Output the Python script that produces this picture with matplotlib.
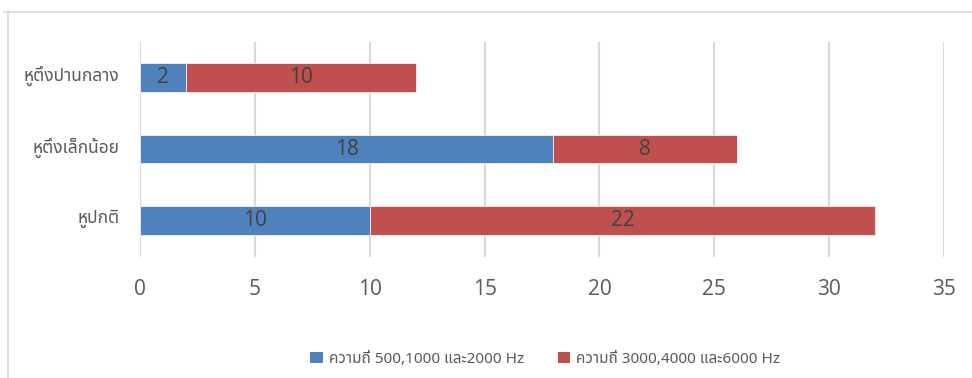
import matplotlib
matplotlib.use("Agg")
import matplotlib.pyplot as plt
import matplotlib.transforms as mtransforms
from matplotlib.lines import Line2D
from matplotlib.patches import Patch

categories = ["หูปกติ", "หูตึงเล็กน้อย", "หูตึงปานกลาง"]
low_freq = [10, 18, 2]
high_freq = [22, 8, 10]
series_names = ["ความถี่ 500,1000 และ2000 Hz", "ความถี่ 3000,4000 และ6000 Hz"]
x_ticks = [0, 5, 10, 15, 20, 25, 30, 35]

BLUE = "#4F81BD"
RED = "#C0504D"
GRID = "#D9D9D9"
TEXT = "#595959"
LABEL = "#404040"

plt.rcParams["font.family"] = ["Noto Sans Thai", "DejaVu Sans"]

fig = plt.figure(figsize=(9.72, 3.78), dpi=100)
ax = fig.add_axes([140 / 972, 1 - 256.5 / 378, 804 / 972, 215 / 378])

y = list(range(len(categories)))
ax.barh(y, low_freq, height=0.4, color=BLUE, edgecolor="white", linewidth=0.5, zorder=3)
ax.barh(y, high_freq, left=low_freq, height=0.4, color=RED, edgecolor="white", linewidth=0.5, zorder=3)

for i in y:
    ax.text(low_freq[i] / 2, i, str(low_freq[i]), ha="center", va="center",
            fontsize=15, color=LABEL, family="Open Sans", zorder=4)
    ax.text(low_freq[i] + high_freq[i] / 2, i, str(high_freq[i]), ha="center", va="center",
            fontsize=15, color=LABEL, family="Open Sans", zorder=4)

ax.set_xlim(0, 35)
ax.set_ylim(-0.5, 2.5)
ax.set_xticks(x_ticks)
ax.set_xticklabels([str(t) for t in x_ticks], family="Open Sans", fontsize=15, color=TEXT)
ax.set_yticks(y)
ax.set_yticklabels(categories, fontsize=12.5, color=TEXT)
ax.tick_params(axis="both", length=0)
ax.tick_params(axis="x", pad=16)
ax.tick_params(axis="y", pad=15)
ax.grid(axis="x", color=GRID, linewidth=1.5, zorder=0)
for s in ax.spines.values():
    s.set_visible(False)

# nudge the category labels up a little
lift = mtransforms.ScaledTranslation(0, 4 / 100, fig.dpi_scale_trans)
for lab in ax.get_yticklabels():
    lab.set_transform(lab.get_transform() + lift)

# chart-area frame (top and left edges)
fig.add_artist(Line2D([4 / 972, 1], [1 - 12 / 378, 1 - 12 / 378], color=GRID, linewidth=1.2, transform=fig.transFigure))
fig.add_artist(Line2D([8 / 972, 8 / 972], [0, 1 - 12 / 378], color=GRID, linewidth=1.2, transform=fig.transFigure))

handles = [Patch(facecolor=BLUE), Patch(facecolor=RED)]
fig.legend(handles, series_names, loc="center", bbox_to_anchor=(0.561, 0.050), ncol=2,
           frameon=False, fontsize=11, labelcolor=TEXT, handlelength=0.8, handleheight=0.8,
           handletextpad=0.4, columnspacing=2.2)

fig.savefig("out.png", dpi=100)
